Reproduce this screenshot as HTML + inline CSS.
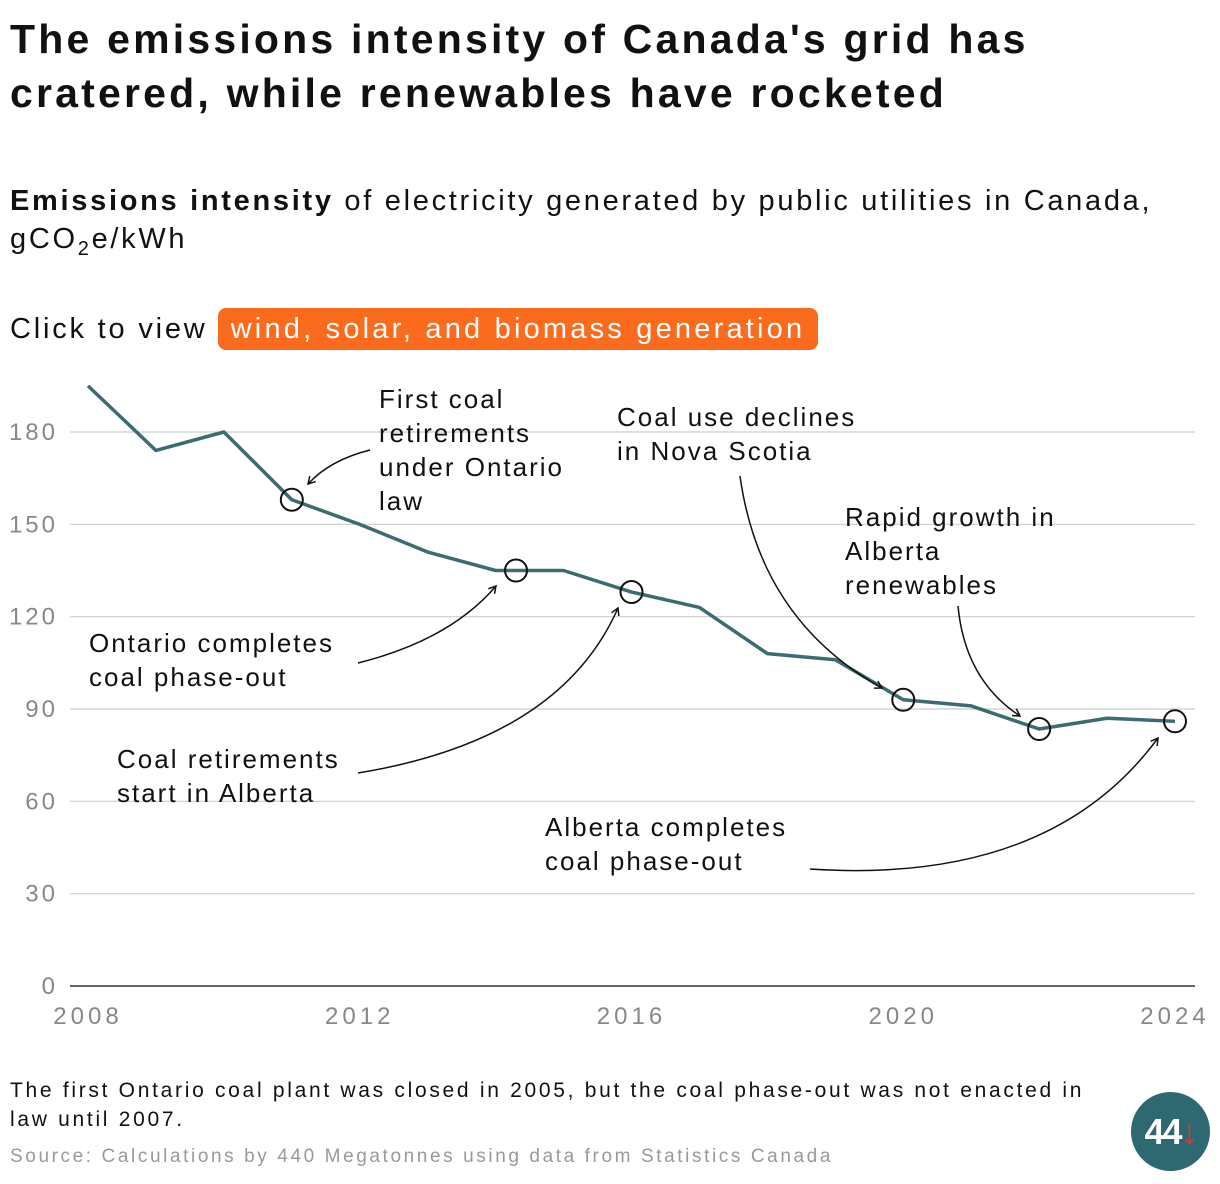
<!DOCTYPE html>
<html><head><meta charset="utf-8"><style>
body{margin:0;width:1220px;height:1184px;background:#fff;font-family:"Liberation Sans",sans-serif;color:#111;position:relative;overflow:hidden}
.abs{position:absolute;white-space:nowrap}
</style></head><body>
<div class="abs" style="left:10px;top:12px;font-size:41px;font-weight:bold;line-height:54px;letter-spacing:3.2px">The emissions intensity of Canada's grid has<br>cratered, while renewables have rocketed</div>
<div class="abs" style="left:10px;top:182px;font-size:29px;line-height:38px;letter-spacing:2.7px"><b>Emissions intensity</b> of electricity generated by public utilities in Canada,<br>gCO<sub style="font-size:20px">2</sub>e/kWh</div>
<div class="abs" style="left:10px;top:310px;font-size:29px;line-height:38px;letter-spacing:2.8px">Click to view</div>
<div class="abs" style="left:218px;top:308px;width:600px;height:42px;background:#fb6b1e;color:#fff;border-radius:8px;font-size:29px;line-height:42px;text-align:center;letter-spacing:3.2px">wind, solar, and biomass generation</div>
<svg class="abs" style="left:0;top:0" width="1220" height="1184" id="chart">
<defs><marker id="ah" markerWidth="10" markerHeight="10" refX="8" refY="5" orient="auto" markerUnits="userSpaceOnUse"><path d="M1,1 L8,5 L1,9" fill="none" stroke="#111" stroke-width="1.5"/></marker></defs>
<g id="grid"></g><g id="line"></g><g id="marks"></g>
<g font-size="26" fill="#111" font-family="Liberation Sans,sans-serif" letter-spacing="2">
<text x="379" y="408">First coal</text><text x="379" y="442">retirements</text><text x="379" y="476">under Ontario</text><text x="379" y="510">law</text>
<text x="617" y="426">Coal use declines</text><text x="617" y="460">in Nova Scotia</text>
<text x="845" y="526">Rapid growth in</text><text x="845" y="560">Alberta</text><text x="845" y="594">renewables</text>
<text x="89" y="652">Ontario completes</text><text x="89" y="686">coal phase-out</text>
<text x="117" y="768">Coal retirements</text><text x="117" y="802">start in Alberta</text>
<text x="545" y="836">Alberta completes</text><text x="545" y="870">coal phase-out</text>
</g>
<g fill="none" stroke="#111" stroke-width="1.5" marker-end="url(#ah)">
<path d="M370,450 Q330,460 308,484"/>
<path d="M358,663 Q450,640 496,586"/>
<path d="M358,773 Q560,740 618,608"/>
<path d="M740,476 Q760,620 882,688"/>
<path d="M958,606 Q965,680 1020,716"/>
<path d="M810,869 Q1050,885 1158,738"/>
</g>
</svg>
<div class="abs" style="left:10px;top:1076px;font-size:21px;line-height:29px;letter-spacing:2.7px">The first Ontario coal plant was closed in 2005, but the coal phase-out was not enacted in<br>law until 2007.</div>
<div class="abs" style="left:10px;top:1146px;font-size:19px;color:#999;letter-spacing:2.6px">Source: Calculations by 440 Megatonnes using data from Statistics Canada</div>
<div class="abs" style="left:1131px;top:1092px;width:79px;height:79px;border-radius:50%;background:#2e6870;color:#fff;font-weight:bold;font-size:36px;line-height:79px;text-align:center;letter-spacing:-2px">44<span style="color:#e8362a">↓</span></div>
<script>
const years=[2008,2009,2010,2011,2012,2013,2014,2015,2016,2017,2018,2019,2020,2021,2022,2023,2024];
const intensity=[195,174,180,158,150,141,135,135,128,123,108,106,93,91,83.5,87,86];
const yTicks=[0,30,60,90,120,150,180];
const xTicks=[2008,2012,2016,2020,2024];
const markerYears=[2011,2014.3,2016,2020,2022,2024];
const ns="http://www.w3.org/2000/svg";
const x=v=>88+(v-2008)*(1087/16);
const y=v=>986-v*(554/180);
function interp(yr){for(let i=0;i<years.length-1;i++){if(yr>=years[i]&&yr<=years[i+1]){const t=(yr-years[i])/(years[i+1]-years[i]);return intensity[i]+t*(intensity[i+1]-intensity[i]);}}return intensity[intensity.length-1];}
function mk(tag,a,p){const e=document.createElementNS(ns,tag);for(const k in a)e.setAttribute(k,a[k]);p.appendChild(e);return e;}
const g=document.getElementById('grid');
yTicks.forEach(t=>{
const l=mk('line',{x1:70,x2:1195,y1:y(t),y2:y(t),stroke:t===0?'#333':'#ccc','stroke-width':t===0?1.5:1.2},g);


const tx=mk('text',{x:58,y:y(t)+8,'text-anchor':'end','font-size':24,fill:'#888','letter-spacing':3},g);tx.textContent=t;


});
xTicks.forEach(t=>{
const tx=mk('text',{x:x(t),y:1024,'text-anchor':'middle','font-size':24,fill:'#888','letter-spacing':4},g);tx.textContent=t;


});
const pl=mk('polyline',{points:years.map((yr,i)=>x(yr)+','+y(intensity[i])).join(' '),fill:'none',stroke:'#3d6b72','stroke-width':3.5,'stroke-linejoin':'round'},document.getElementById('line'));


const m=document.getElementById('marks');
markerYears.forEach(yr=>{
const c=mk('circle',{cx:x(yr),cy:y(interp(yr)),r:11,fill:'none',stroke:'#111','stroke-width':2},m);


});
</script>
</body></html>
